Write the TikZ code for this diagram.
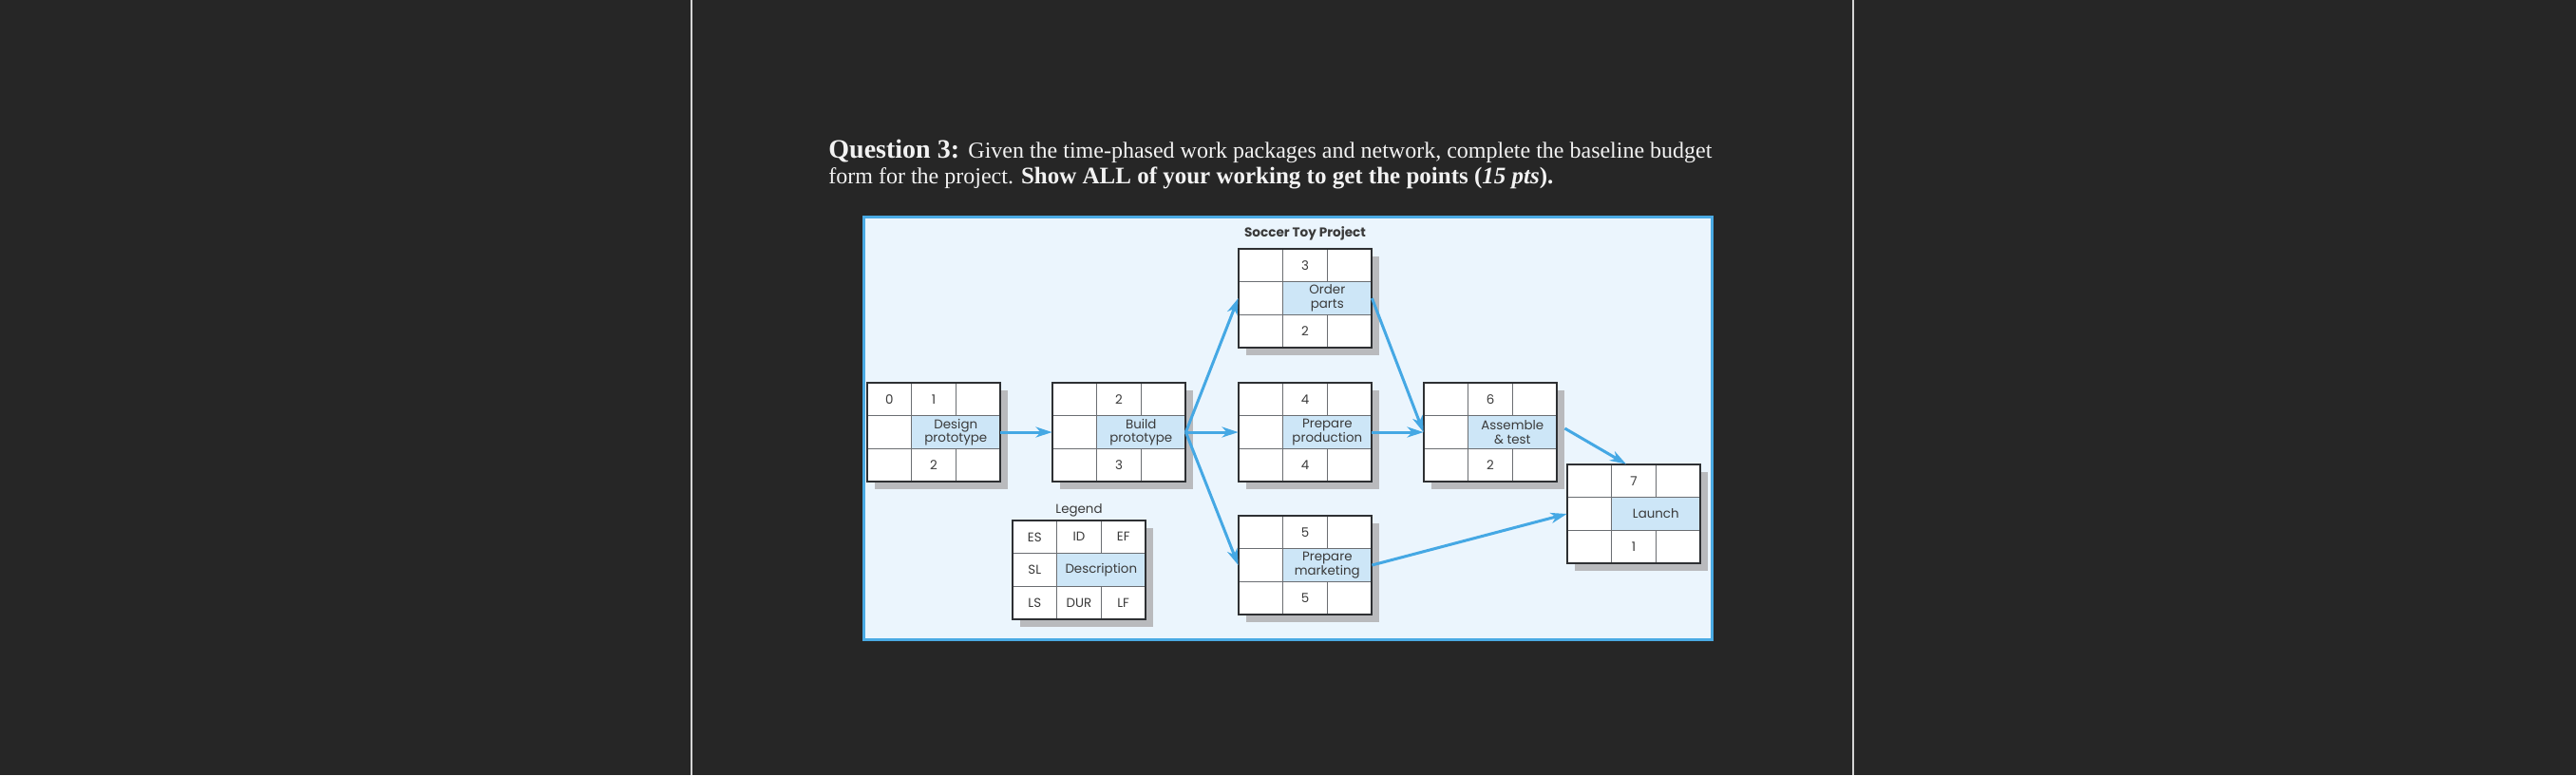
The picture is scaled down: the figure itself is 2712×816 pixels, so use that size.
\documentclass[tikz,border=0pt]{standalone}
\usepackage{fontspec}
\setmainfont{Liberation Serif}
\newfontfamily\diafont{Poppins}
\usetikzlibrary{arrows.meta}
\definecolor{bgdark}{HTML}{262626}
\definecolor{sepline}{HTML}{D4D4D4}
\definecolor{qwhite}{HTML}{F2F2F2}
\definecolor{framefill}{HTML}{EBF5FD}
\definecolor{frameline}{HTML}{4AAAE4}
\definecolor{descfill}{HTML}{CDE6F7}
\definecolor{shadowc}{HTML}{B9BABD}
\definecolor{gridouter}{HTML}{2E3033}
\definecolor{gridinner}{HTML}{6B6E72}
\definecolor{arrowc}{HTML}{45A8E4}
\definecolor{txt}{HTML}{3A3A3A}
\tikzset{
  flow/.style={draw=arrowc, line width=1.5pt, -{Stealth[length=8.5pt,width=5.5pt,inset=2.5pt]}},
  celltext/.style={font=\diafont\fontsize{6.7pt}{7.3pt}\selectfont, text=txt, align=center, inner sep=0pt},
  titletext/.style={font=\diafont\bfseries\fontsize{6.8pt}{7.5pt}\selectfont, text=txt, inner sep=0pt},
  gridin/.style={draw=gridinner, line width=0.75pt},
  gridout/.style={draw=gridouter, line width=1.25pt},
  anchorbox/.style={inner sep=0pt, minimum width=70pt, minimum height=52pt},
}
\newcommand\actbox[6]{%
  \begin{scope}[shift={(#2,#3)}]
    \fill[shadowc] (8,8) rectangle (148,112);
    \fill[white] (0,0) rectangle (140,104);
    \fill[descfill] (46.7,34.7) rectangle (140,69.3);
    \draw[gridin] (46.7,0) -- (46.7,104) (93.3,0) -- (93.3,34.7) (93.3,69.3) -- (93.3,104)
      (0,34.7) -- (140,34.7) (0,69.3) -- (140,69.3);
    \draw[gridout] (0,0) rectangle (140,104);
    \node[anchorbox] (#1) at (70,52) {};
    \coordinate (#1-es) at (23.3,17.3);
    \coordinate (#1-ef) at (116.7,17.3);
    \coordinate (#1-sl) at (23.3,52);
    \coordinate (#1-ls) at (23.3,86.7);
    \coordinate (#1-lf) at (116.7,86.7);
    \node[celltext] (#1-id) at (70,17.3) {#4};
    \node[celltext] (#1-desc) at (93.3,52) {#5};
    \node[celltext] (#1-dur) at (70,86.7) {#6};
  \end{scope}}
\begin{document}
\begin{tikzpicture}[x=0.5pt,y=-0.5pt]
  \useasboundingbox (0,0) rectangle (2712,816);
  \fill[bgdark] (0,0) rectangle (2712,816);
  \draw[sepline, line width=0.8pt] (728,0) -- (728,816) (1951,0) -- (1951,816);
  % question text
  \node[anchor=base west, text=qwhite, inner sep=0pt] (q1) at (872,166)
    {\fontsize{14pt}{16pt}\selectfont\textbf{Question 3:} \fontsize{12pt}{14pt}\selectfont Given the time-phased work packages and network, complete the baseline budget};
  \node[anchor=base west, text=qwhite, inner sep=0pt, font=\fontsize{12pt}{14pt}\selectfont] (q2) at (872,193)
    {form for the project. \fontsize{12.5pt}{14pt}\selectfont\textbf{Show ALL of your working to get the points (\textit{15 pts}).}};
  % frame
  \draw[frameline, fill=framefill, line width=1.5pt] (909,228) rectangle (1802,673);
  \node[titletext] (title) at (1374,246) {Soccer Toy Project};
  \node[celltext] (legendlabel) at (1136,537) {Legend};
  % boxes
  \actbox{design}{913}{403}{1}{Design\\prototype}{2}
  \node[celltext] at (design-es) {0};
  \actbox{build}{1108}{403}{2}{Build\\prototype}{3}
  \actbox{order}{1304}{262}{3}{Order\\parts}{2}
  \actbox{production}{1304}{403}{4}{Prepare\\production}{4}
  \actbox{marketing}{1304}{543}{5}{Prepare\\marketing}{5}
  \actbox{assemble}{1499}{403}{6}{Assemble\\\& test}{2}
  \actbox{launch}{1650}{489}{7}{Launch}{1}
  \actbox{legend}{1066}{548}{ID}{Description}{DUR}
  \node[celltext] at (legend-es) {ES};
  \node[celltext] at (legend-ef) {EF};
  \node[celltext] at (legend-sl) {SL};
  \node[celltext] at (legend-ls) {LS};
  \node[celltext] at (legend-lf) {LF};
  % connectors
  \draw[flow] (design.east) -- (build.west);
  \draw[flow] (build.east) -- (order.west);
  \draw[flow] (build.east) -- (production.west);
  \draw[flow] (build.east) -- (marketing.west);
  \draw[flow] (order.east) -- (assemble.west);
  \draw[flow] (production.east) -- (assemble.west);
  \draw[flow] ([shift={(8,-4)}]assemble.east) -- ([shift={(-8,0)}]launch.north);
  \draw[flow] (marketing.east) -- (launch.west);
\end{tikzpicture}
\end{document}
